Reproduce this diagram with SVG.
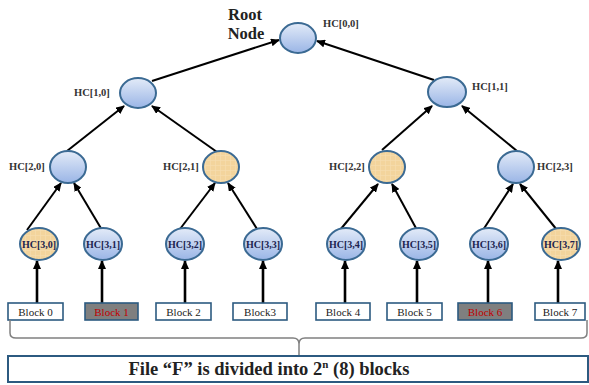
<svg xmlns="http://www.w3.org/2000/svg" width="589" height="385" viewBox="0 0 589 385">
<style>
.blue{fill:url(#gBlue);stroke:#3b6a93;stroke-width:2}
.orange{fill:url(#pOrange);stroke:#3b6a93;stroke-width:2}
.lbl{font-family:"Liberation Serif",serif;font-weight:bold;font-size:10.5px;fill:#333}
.leaf{font-family:"Liberation Serif",serif;font-weight:bold;font-size:10px;fill:#1c1f4f;text-anchor:middle}
.edge{stroke:#000;stroke-width:2;fill:none;marker-end:url(#ah)}
.vedge{stroke:#000;stroke-width:2.6;fill:none;marker-end:url(#ah)}
.blk{fill:#fff;stroke:#2c5a80;stroke-width:1.6}
.blkh{fill:#7f7f7f;stroke:#2c5a80;stroke-width:1.6}
.bt{font-family:"Liberation Serif",serif;font-size:11px;fill:#222;text-anchor:middle}
.bth{font-family:"Liberation Serif",serif;font-size:11px;fill:#c00000;text-anchor:middle}
</style>
<defs>
<linearGradient id="gBlue" x1="0" y1="0" x2="0" y2="1">
<stop offset="0" stop-color="#e3ebf8"/>
<stop offset="1" stop-color="#9ab5e6"/>
</linearGradient>
<pattern id="pOrange" width="5" height="5" patternUnits="userSpaceOnUse">
<rect width="5" height="5" fill="#f3d49c"/>
<path d="M0,0.5 H5 M0.5,0 V5" stroke="#f6dcaf" stroke-width="0.7"/>
</pattern>
<marker id="ah" markerUnits="userSpaceOnUse" markerWidth="9" markerHeight="8" viewBox="0 0 9 8" refX="8" refY="4" orient="auto">
<path d="M0,0 L9,4 L0,8 z" fill="#000"/>
</marker>
</defs>
<rect width="589" height="385" fill="#fff"/>

<g id="connectors">
<line class="edge" x1="152" y1="81" x2="279" y2="40"/>
<line class="edge" x1="434" y1="80" x2="317" y2="41"/>
<line class="edge" x1="67" y1="151" x2="124" y2="106"/>
<line class="edge" x1="217" y1="152" x2="152" y2="106"/>
<line class="edge" x1="382" y1="150" x2="432" y2="106"/>
<line class="edge" x1="517" y1="151" x2="462" y2="106"/>
<line class="edge" x1="27" y1="230" x2="61" y2="183"/>
<line class="edge" x1="102" y1="230" x2="74" y2="183"/>
<line class="edge" x1="180" y1="229" x2="215" y2="183"/>
<line class="edge" x1="257" y1="229" x2="228" y2="183"/>
<line class="edge" x1="340" y1="230" x2="378" y2="184"/>
<line class="edge" x1="417" y1="230" x2="392" y2="184"/>
<line class="edge" x1="483" y1="230" x2="513" y2="184"/>
<line class="edge" x1="557" y1="230" x2="520" y2="184"/>
<line class="vedge" x1="37" y1="303" x2="37" y2="261"/>
<line class="vedge" x1="102" y1="303" x2="102" y2="261"/>
<line class="vedge" x1="185" y1="303" x2="185" y2="261"/>
<line class="vedge" x1="263" y1="303" x2="263" y2="261"/>
<line class="vedge" x1="345" y1="303" x2="345" y2="261"/>
<line class="vedge" x1="417" y1="303" x2="417" y2="261"/>
<line class="vedge" x1="488" y1="303" x2="488" y2="261"/>
<line class="vedge" x1="558" y1="303" x2="558" y2="261"/>
</g>

<g id="root">
<text x="245" y="20" text-anchor="middle" font-family="Liberation Serif, serif" font-weight="bold" font-size="16.5" fill="#222">Root</text>
<text x="246" y="39" text-anchor="middle" font-family="Liberation Serif, serif" font-weight="bold" font-size="16.5" fill="#222">Node</text>
<ellipse class="blue" cx="298" cy="38" rx="18" ry="15"/>
<text class="lbl" x="323" y="27">HC[0,0]</text>
</g>
<g id="hc10"><ellipse class="blue" cx="138" cy="93" rx="18" ry="15"/><text class="lbl" x="74" y="96">HC[1,0]</text></g>
<g id="hc11"><ellipse class="blue" cx="447" cy="92" rx="19" ry="15"/><text class="lbl" x="472" y="90">HC[1,1]</text></g>
<g id="hc20"><text class="lbl" x="9" y="170">HC[2,0]</text><ellipse class="blue" cx="68" cy="167" rx="18" ry="16"/></g>
<g id="hc21"><ellipse class="orange" cx="221" cy="167" rx="18" ry="16"/><text class="lbl" x="163" y="170">HC[2,1]</text></g>
<g id="hc22"><ellipse class="orange" cx="387" cy="167" rx="18" ry="16"/><text class="lbl" x="329" y="170">HC[2,2]</text></g>
<g id="hc23"><ellipse class="blue" cx="516" cy="167" rx="18" ry="16"/><text class="lbl" x="537" y="170">HC[2,3]</text></g>

<g id="hc30"><ellipse class="orange" cx="39" cy="244" rx="19" ry="16"/><text class="leaf" x="39" y="248">HC[3,0]</text></g>
<g id="hc31"><ellipse class="blue" cx="103" cy="244" rx="19" ry="16"/><text class="leaf" x="103" y="248">HC[3,1]</text></g>
<g id="hc32"><ellipse class="blue" cx="185" cy="244" rx="19" ry="16"/><text class="leaf" x="185" y="248">HC[3,2]</text></g>
<g id="hc33"><ellipse class="blue" cx="263" cy="244" rx="19" ry="16"/><text class="leaf" x="263" y="248">HC[3,3]</text></g>
<g id="hc34"><ellipse class="blue" cx="346" cy="244" rx="19" ry="16"/><text class="leaf" x="346" y="248">HC[3,4]</text></g>
<g id="hc35"><ellipse class="blue" cx="419" cy="244" rx="19" ry="16"/><text class="leaf" x="419" y="248">HC[3,5]</text></g>
<g id="hc36"><ellipse class="blue" cx="489" cy="244" rx="19" ry="16"/><text class="leaf" x="489" y="248">HC[3,6]</text></g>
<g id="hc37"><ellipse class="orange" cx="561" cy="244" rx="19" ry="16"/><text class="leaf" x="561" y="248">HC[3,7]</text></g>

<g id="block0"><rect class="blk" x="8" y="303" width="55" height="17"/><text class="bt" x="35.5" y="315.5">Block 0</text></g>
<g id="block1"><rect class="blkh" x="85" y="303" width="53" height="17"/><text class="bth" x="111.5" y="315.5">Block 1</text></g>
<g id="block2"><rect class="blk" x="156" y="303" width="55" height="17"/><text class="bt" x="183.5" y="315.5">Block 2</text></g>
<g id="block3"><rect class="blk" x="233" y="303" width="54" height="17"/><text class="bt" x="260" y="315.5">Block3</text></g>
<g id="block4"><rect class="blk" x="316" y="303" width="54" height="17"/><text class="bt" x="343" y="315.5">Block 4</text></g>
<g id="block5"><rect class="blk" x="387" y="303" width="55" height="17"/><text class="bt" x="414.5" y="315.5">Block 5</text></g>
<g id="block6"><rect class="blkh" x="458" y="303" width="54" height="17"/><text class="bth" x="485" y="315.5">Block 6</text></g>
<g id="block7"><rect class="blk" x="535" y="303" width="50" height="17"/><text class="bt" x="560" y="315.5">Block 7</text></g>

<g id="brace">
<path d="M10,320 V333 Q10,338 16,338 H293 Q299,338 299,344 V355 M299,344 Q299,338 305,338 H581 Q587,338 587,333 V320" fill="none" stroke="#808080" stroke-width="1.5"/>
</g>

<g id="file">
<rect x="8" y="356" width="580" height="26" fill="#fff" stroke="#2c5a80" stroke-width="2"/>
<text x="269" y="375" text-anchor="middle" font-family="Liberation Serif, serif" font-weight="bold" font-size="18.5" fill="#222">File “F” is divided into 2<tspan font-size="11" dy="-7">n</tspan><tspan dy="7">  (8) blocks</tspan></text>
</g>
</svg>
